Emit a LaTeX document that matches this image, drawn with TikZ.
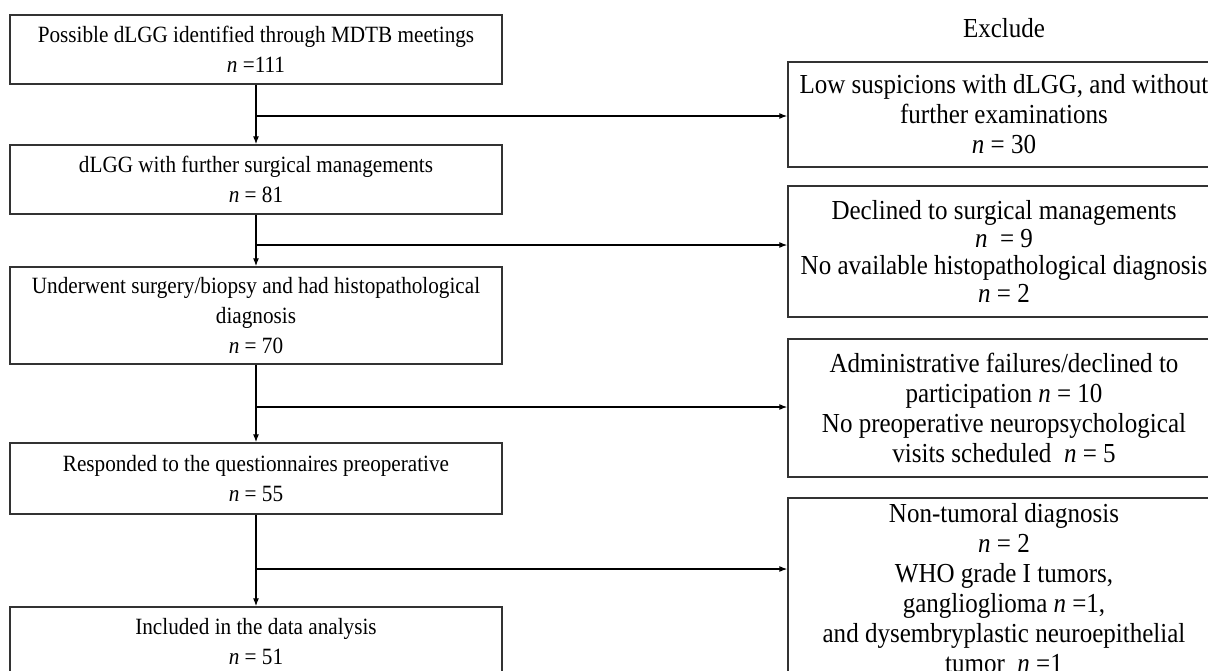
\documentclass[tikz,border=0pt]{standalone}
\usepackage{fontspec}
\setmainfont{Liberation Serif}[FakeStretch=0.91]
\usetikzlibrary{arrows.meta}
\begin{document}
\begin{tikzpicture}[x=1pt,y=-1pt,
  lbox/.style={draw=black!80, line width=1.4pt, minimum width=492pt, align=center, inner sep=0pt, font=\fontsize{23.3}{30}\selectfont},
  rbox/.style={draw=black!80, line width=1.4pt, minimum width=432pt, align=center, inner sep=0pt, font=\fontsize{27.5}{30}\selectfont},
  conn/.style={line width=1.2pt, -{Latex[length=8pt,width=6pt]}}]
\useasboundingbox (0,0) rectangle (1208,670);
% left column
\node[lbox, minimum height=69pt] (L1) at (256,49.5) {Possible dLGG identified through MDTB meetings\\\textit{n} =111};
\node[lbox, minimum height=69pt] (L2) at (256,179.5) {dLGG with further surgical managements\\\textit{n} = 81};
\node[lbox, minimum height=97pt] (L3) at (256,315.5) {Underwent surgery/biopsy and had histopathological\\diagnosis\\\textit{n} = 70};
\node[lbox, minimum height=71pt] (L4) at (256,478.5) {Responded to the questionnaires preoperative\\\textit{n} = 55};
\node[lbox, minimum height=70pt] (L5) at (256,642) {Included in the data analysis\\\textit{n} = 51};
% right column
\node[font=\fontsize{27.5}{30}\selectfont] (ex) at (1004,28) {Exclude};
\node[rbox, minimum height=105pt] (R1) at (1004,114.5) {Low suspicions with dLGG, and without\\further examinations\\\textit{n} = 30};
\node[rbox, minimum height=131pt, font=\fontsize{27.5}{27.5}\selectfont] (R2) at (1004,251.5) {Declined to surgical managements\\\textit{n}~ = 9\\No available histopathological diagnosis\\\textit{n} = 2};
\node[rbox, minimum height=138pt] (R3) at (1004,408) {Administrative failures/declined to\\participation \textit{n} = 10\\No preoperative neuropsychological\\visits scheduled~ \textit{n} = 5};
\node[rbox, minimum height=180pt] (R4) at (1004,588) {Non-tumoral diagnosis\\\textit{n} = 2\\WHO grade I tumors,\\ganglioglioma \textit{n} =1,\\and dysembryplastic neuroepithelial\\tumor~ \textit{n} =1};
% branch points
\coordinate (b1) at (256,116);
\coordinate (b2) at (256,245);
\coordinate (b3) at (256,407);
\coordinate (b4) at (256,569);
% connectors
\draw[conn] (L1.south) -- (L2.north);
\draw[conn] (L2.south) -- (L3.north);
\draw[conn] (L3.south) -- (L4.north);
\draw[conn] (L4.south) -- (L5.north);
\draw[conn] (b1) -- (b1 -| R1.west);
\draw[conn] (b2) -- (b2 -| R2.west);
\draw[conn] (b3) -- (b3 -| R3.west);
\draw[conn] (b4) -- (b4 -| R4.west);
\end{tikzpicture}
\end{document}
